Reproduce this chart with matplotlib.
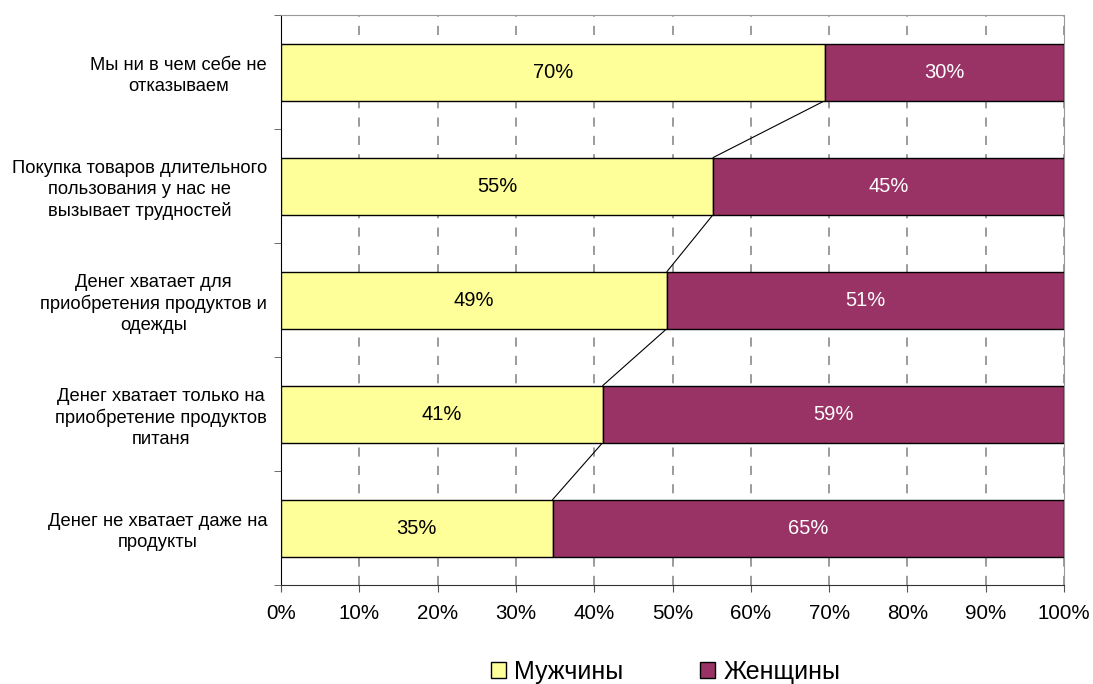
import matplotlib
matplotlib.use("Agg")
import matplotlib.pyplot as plt
from matplotlib.patches import Patch

plt.rcParams['font.family'] = ['Liberation Sans', 'DejaVu Sans']

# Data (top to bottom)
categories = [
    "Мы ни в чем себе не\nотказываем",
    "Покупка товаров длительного\nпользования у нас не\nвызывает трудностей",
    "Денег хватает для\nприобретения продуктов и\nодежды",
    "Денег хватает только на\nприобретение продуктов\nпитаня",
    "Денег не хватает даже на\nпродукты",
]
men = [69.5, 55.2, 49.3, 41.1, 34.7]
women = [100 - m for m in men]
series_names = ["Мужчины", "Женщины"]
colors = ["#FFFF99", "#993366"]
x_ticks = list(range(0, 101, 10))

fig = plt.figure(figsize=(10.93, 6.84), dpi=100)
ax = fig.add_axes([281 / 1093, 1 - 585 / 684, (1064 - 281) / 1093, (585 - 15) / 684])

ypos = list(range(len(categories)))
bar_h = 0.5

ax.barh(ypos, men, height=bar_h, color=colors[0], edgecolor="black", linewidth=1, zorder=3)
ax.barh(ypos, women, left=men, height=bar_h, color=colors[1], edgecolor="black", linewidth=1, zorder=3)

# data labels
for y, m, w in zip(ypos, men, women):
    ax.text(m / 2, y, f"{m:.0f}%", ha="center", va="center", fontsize=14.5, color="black", zorder=4)
    ax.text(m + w / 2, y, f"{w:.0f}%", ha="center", va="center", fontsize=14.5, color="white", zorder=4)

# series lines between bars
for i in range(len(men) - 1):
    ax.plot([men[i], men[i + 1]], [ypos[i] + bar_h / 2, ypos[i + 1] - bar_h / 2],
            color="black", linewidth=0.8, zorder=2)

ax.set_ylim(len(categories) - 0.5, -0.5)
ax.set_xlim(0, 100)

# category labels: right-aligned blocks, lines centred inside
ax.set_yticks(ypos)
ax.set_yticklabels(categories, fontsize=13.2, ha="right", multialignment="center", linespacing=1.3)
ax.tick_params(axis="y", which="major", length=0, pad=10)
ax.set_yticks([i - 0.5 for i in range(len(categories) + 1)], minor=True)
ax.tick_params(axis="y", which="minor", length=5, direction="out", color="#555555")

ax.set_xticks(x_ticks)
ax.set_xticklabels([f"{t}%" for t in x_ticks], fontsize=14.8)
ax.tick_params(axis="x", length=5, direction="out", color="#555555", pad=9)

ax.grid(axis="x", color="#808080", linestyle=(0, (6, 6)), linewidth=1.1, zorder=0)

ax.spines["top"].set_color("#999999")
ax.spines["right"].set_color("#999999")
ax.spines["left"].set_color("black")
ax.spines["bottom"].set_color("#333333")

handles = [Patch(facecolor=c, edgecolor="black", linewidth=1) for c in colors]
fig.legend(handles, series_names, loc="center", bbox_to_anchor=(665.5 / 1093, 1 - 672 / 684), ncol=2,
           frameon=False, fontsize=18, handlelength=0.6, handleheight=0.6,
           handletextpad=0.32, columnspacing=3.1, borderpad=0)

plt.savefig("out.png", dpi=100)
plt.close()
